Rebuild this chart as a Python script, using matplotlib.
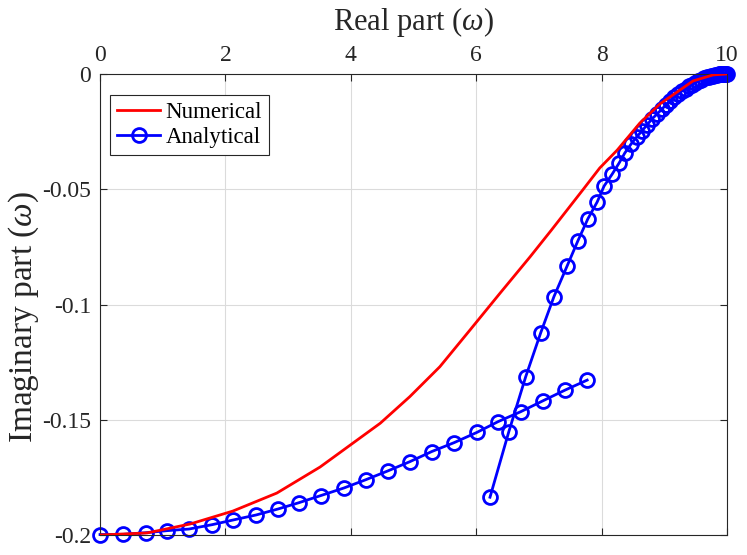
import matplotlib
matplotlib.use('Agg')
import matplotlib.pyplot as plt
from matplotlib.ticker import FixedLocator, FuncFormatter

# --- data ---
num_re = [0.0, 0.75, 1.44, 2.12, 2.82, 3.51, 3.99, 4.47, 4.94, 5.42, 5.90, 6.38,
          6.86, 7.20, 7.70, 7.97, 8.25, 8.61, 8.93, 9.46, 9.78, 10.0]
num_im = [-0.2, -0.1991, -0.1952, -0.1896, -0.1818, -0.1705, -0.1610, -0.1515,
          -0.1400, -0.1270, -0.1111, -0.0951, -0.0793, -0.0677, -0.0503, -0.0408,
          -0.0330, -0.0213, -0.0130, -0.0030, -0.0004, 0.0]

# analytical, first branch
ana1_re = [0.0, 0.37, 0.73, 1.07, 1.42, 1.79, 2.12, 2.49, 2.84, 3.17, 3.52, 3.89,
           4.24, 4.59, 4.94, 5.29, 5.65, 6.01, 6.35, 6.71, 7.07, 7.42, 7.77]
ana1_im = [-0.1998, -0.1997, -0.1990, -0.1981, -0.1974, -0.1955, -0.1935, -0.1913,
           -0.1887, -0.1860, -0.1829, -0.1796, -0.1760, -0.1722, -0.1682, -0.1638,
           -0.1599, -0.1555, -0.1508, -0.1465, -0.1417, -0.1371, -0.1328]

# analytical, second branch
ana2_re = [6.22, 6.52, 6.79, 7.03, 7.24, 7.45, 7.62, 7.78, 7.93, 8.04, 8.17, 8.28,
           8.37, 8.47, 8.56, 8.644, 8.724, 8.804, 8.884, 8.963, 9.027, 9.091, 9.155,
           9.219, 9.282, 9.346, 9.394, 9.442, 9.490, 9.537, 9.585, 9.633, 9.681,
           9.713, 9.745, 9.777, 9.809, 9.841, 9.872, 9.888, 9.904, 9.920, 9.936,
           9.952, 9.968, 9.984, 10.0]
ana2_im = [-0.1836, -0.1552, -0.1313, -0.1122, -0.0966, -0.0833, -0.0725, -0.0629,
           -0.0555, -0.0486, -0.0434, -0.0386, -0.0343, -0.0304, -0.0273, -0.0247,
           -0.0221, -0.0195, -0.0174, -0.0152, -0.0134, -0.0117, -0.0102, -0.0087,
           -0.0074, -0.0063, -0.0054, -0.0046, -0.0037, -0.0030, -0.0024, -0.0019,
           -0.0014, -0.0011, -0.0009, -0.0007, -0.0005, -0.0003, -0.0002, -0.00017,
           -0.00013, -0.0001, -0.00004, -0.00002, 0.0, 0.0, 0.0]

x_ticks = [0, 2, 4, 6, 8, 10]
y_ticks = [-0.2, -0.15, -0.1, -0.05, 0]

dark = (0.15, 0.15, 0.15)
plt.rcParams['font.family'] = ['Liberation Serif', 'DejaVu Serif']
plt.rcParams['mathtext.fontset'] = 'custom'
plt.rcParams['mathtext.rm'] = 'Liberation Serif'
plt.rcParams['mathtext.it'] = 'Liberation Serif:italic'
plt.rcParams['axes.unicode_minus'] = False

fig = plt.figure(figsize=(7.47, 5.55), dpi=100)
ax = fig.add_axes([0.1339, 0.036, 0.8393, 0.8307])

ax.plot(num_re, num_im, color='red', linewidth=2, label='Numerical', zorder=3)
ax.plot(ana1_re, ana1_im, color='blue', linewidth=2, marker='o', markersize=10,
        markerfacecolor='none', markeredgewidth=2, label='Analytical',
        clip_on=False, zorder=2)
ax.plot(ana2_re, ana2_im, color='blue', linewidth=2, marker='o', markersize=10,
        markerfacecolor='none', markeredgewidth=2, clip_on=False, zorder=2)

ax.set_xlim(0, 10)
ax.set_ylim(-0.2, 0)
ax.xaxis.set_major_locator(FixedLocator(x_ticks))
ax.yaxis.set_major_locator(FixedLocator(y_ticks))
ax.yaxis.set_major_formatter(FuncFormatter(lambda v, p: '%g' % v))
ax.xaxis.tick_top()
ax.xaxis.set_label_position('top')
ax.tick_params(axis='both', direction='in', length=5, width=0.8, colors=dark,
               labelsize=17, top=True, bottom=True, left=True, right=True)
ax.tick_params(axis='x', labeltop=True, labelbottom=False, pad=5.5)
ax.tick_params(axis='y', pad=6.5)
for s in ax.spines.values():
    s.set_color(dark)
    s.set_linewidth(0.8)
ax.grid(True, color=(0.86, 0.86, 0.86), linewidth=0.8)
ax.set_axisbelow(True)

ax.set_xlabel(r'Real part ($\omega$)', fontsize=22, color=dark, labelpad=11)
ax.set_ylabel(r'Imaginary part ($\omega$)', fontsize=24, color=dark, labelpad=1)
ax.yaxis.set_label_coords(-0.094, 0.473)

leg = ax.legend(loc='upper left', bbox_to_anchor=(0.016, 0.955), fontsize=16.5,
                frameon=True, fancybox=False, edgecolor=dark, framealpha=1,
                handlelength=1.9, handletextpad=0.22, borderpad=0.3,
                labelspacing=0.2, borderaxespad=0)
leg.get_frame().set_linewidth(0.8)
for t in leg.get_texts():
    t.set_color('black')

fig.savefig('out.png', dpi=100)
